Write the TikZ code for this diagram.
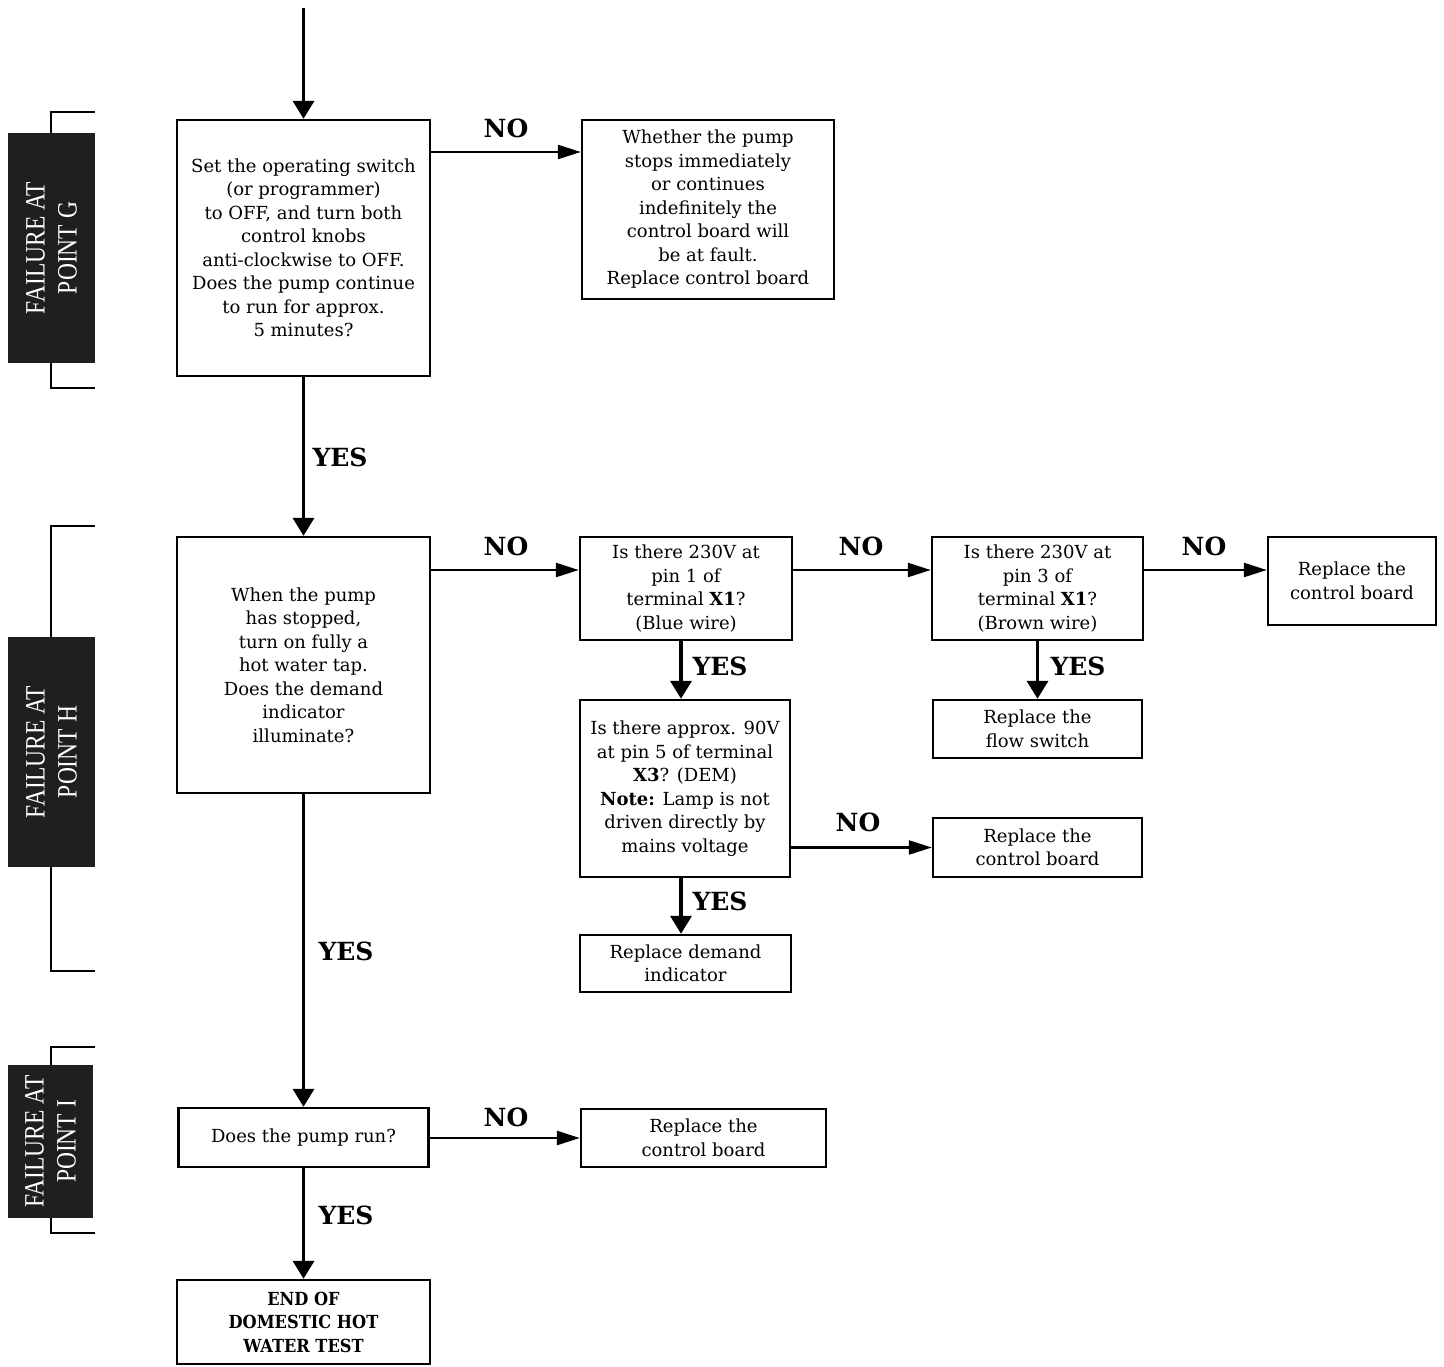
\documentclass[tikz,border=0pt]{standalone}
\usepackage{fontspec}
\setmainfont{DejaVu Serif}
\newfontfamily\condfont{DejaVu Serif Condensed}
\newfontfamily\labfont{DejaVu Serif}
\newfontfamily\failfont{Liberation Serif}[FakeStretch=0.84]
\usetikzlibrary{arrows.meta}
\begin{document}
\begin{tikzpicture}[x=1pt,y=-1pt,
  box/.style={draw, line width=2.4pt, align=center, inner sep=0pt, font=\fontsize{18}{23.5}\selectfont},
  varr/.style={line width=3.6pt, -{Triangle[length=18pt,width=21pt]}},
  harr/.style={line width=2.5pt, -{Triangle[length=23pt,width=14pt]}},
  lbl/.style={font=\labfont\bfseries\fontsize{25}{25}\selectfont},
  fail/.style={fill=black!88, text=white, rotate=90, align=center, inner sep=0pt, font=\failfont\fontsize{28}{32}\selectfont},
  brk/.style={line width=2pt}]
\useasboundingbox (0,0) rectangle (1444,1367);

% brackets
\draw[brk] (95,112) -- (51,112) -- (51,388) -- (95,388);
\draw[brk] (95,526) -- (51,526) -- (51,971) -- (95,971);
\draw[brk] (95,1047) -- (51,1047) -- (51,1233) -- (95,1233);
\node[fail, minimum width=230, minimum height=87] (fg) at (51.5,248) {FAILURE AT\\POINT G};
\node[fail, minimum width=230, minimum height=87] (fh) at (51.5,752) {FAILURE AT\\POINT H};
\node[fail, minimum width=153, minimum height=85] (fi) at (50.5,1141.5) {FAILURE AT\\POINT I};

% boxes
\node[box, minimum width=253, minimum height=256] (A) at (303.5,248) {Set the operating switch\\(or programmer)\\to OFF, and turn both\\control knobs\\anti-clockwise to OFF.\\Does the pump continue\\to run for approx.\\5 minutes?};
\node[box, minimum width=252, minimum height=179] (B) at (708,209.5) {Whether the pump\\stops immediately\\or continues\\indefinitely the\\control board will\\be at fault.\\Replace control board};
\node[box, minimum width=253, minimum height=256] (C) at (303.5,665) {When the pump\\has stopped,\\turn on fully a\\hot water tap.\\Does the demand\\indicator\\illuminate?};
\node[box, minimum width=212, minimum height=103] (D) at (686,588.5) {Is there 230V at\\pin 1 of\\terminal \textbf{X1}?\\(Blue wire)};
\node[box, minimum width=211, minimum height=103] (E) at (1037.5,588.5) {Is there 230V at\\pin 3 of\\terminal \textbf{X1}?\\(Brown wire)};
\node[box, minimum width=168, minimum height=88] (F) at (1352,581) {Replace the\\control board};
\node[box, minimum width=210, minimum height=177] (G) at (685,788.5) {Is there approx. 90V\\at pin 5 of terminal\\\textbf{X3}? (DEM)\\\textbf{Note:} Lamp is not\\driven directly by\\mains voltage};
\node[box, minimum width=209, minimum height=59] (H) at (1037.5,847.5) {Replace the\\control board};
\node[box, minimum width=209, minimum height=58] (I) at (1037.5,729) {Replace the\\flow switch};
\node[box, minimum width=211, minimum height=57] (J) at (685.5,963.5) {Replace demand\\indicator};
\node[box, minimum width=250, minimum height=59] (K) at (303.5,1137.5) {Does the pump run?};
\node[box, minimum width=245, minimum height=58] (L) at (703.5,1138) {Replace the\\control board};
\node[box, minimum width=253, minimum height=84, font=\condfont\bfseries\fontsize{18}{23.5}\selectfont] (M) at (303.5,1322) {END OF\\DOMESTIC HOT\\WATER TEST};

% connectors
\coordinate (start) at (303.5,8);
\draw[varr] (start) -- (A.north);
\draw[harr] (A.east |- 0,152) -- (B.west |- 0,152);
\draw[varr] (A.south) -- (C.north);
\draw[harr] (C.east |- 0,570) -- (D.west |- 0,570);
\draw[harr] (D.east |- 0,570) -- (E.west |- 0,570);
\draw[harr] (E.east |- 0,570) -- (F.west |- 0,570);
\draw[varr] (D.south -| 681,0) -- (G.north -| 681,0);
\draw[varr] (E.south) -- (I.north);
\draw[harr] (G.east |- H.west) -- (H.west);
\draw[varr] (G.south -| 681,0) -- (J.north -| 681,0);
\draw[varr] (C.south) -- (K.north);
\draw[harr] (K.east |- L.west) -- (L.west);
\draw[varr] (K.south) -- (M.north);

% labels
\node[lbl] (n1) at (506,128) {NO};
\node[lbl] (n2) at (506,546) {NO};
\node[lbl] (n3) at (861,546) {NO};
\node[lbl] (n4) at (1204,546) {NO};
\node[lbl] (n5) at (858,822) {NO};
\node[lbl] (n6) at (506,1117) {NO};
\node[lbl] (y1) at (340,457) {YES};
\node[lbl] (y2) at (720,666) {YES};
\node[lbl] (y3) at (1078,666) {YES};
\node[lbl] (y4) at (720,901) {YES};
\node[lbl] (y5) at (346,951) {YES};
\node[lbl] (y6) at (346,1215) {YES};
\end{tikzpicture}
\end{document}
